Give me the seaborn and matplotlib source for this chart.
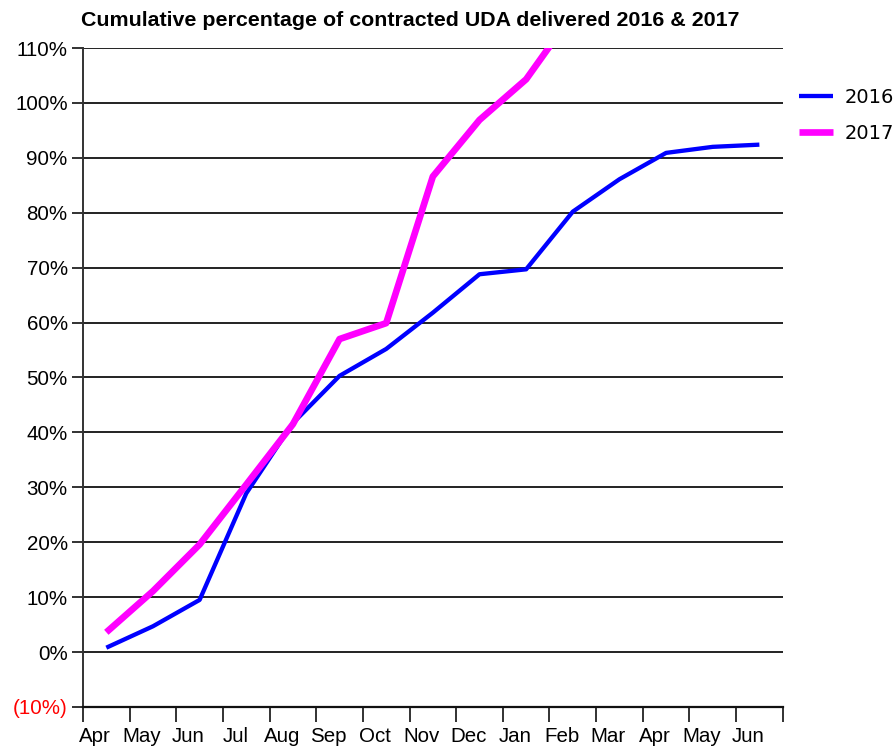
import matplotlib
matplotlib.use("Agg")
import matplotlib.pyplot as plt
import matplotlib.transforms as mtransforms
import seaborn as sns
import pandas as pd
import numpy as np

months = ["Apr", "May", "Jun", "Jul", "Aug", "Sep", "Oct", "Nov", "Dec",
          "Jan", "Feb", "Mar", "Apr", "May", "Jun"]
vals_2016 = [0.8, 4.7, 9.5, 28.9, 41.7, 50.3, 55.2, 61.8, 68.8, 69.7,
             80.2, 86.1, 90.9, 92.0, 92.4]
vals_2017 = [3.6, 11.1, 19.6, 30.5, 41.5, 57.0, 59.9, 86.6, 96.9, 104.3,
             116.2]
y_ticks = list(range(-10, 111, 10))
y_labels = ["(10%)"] + [f"{v}%" for v in range(0, 111, 10)]
title = "Cumulative percentage of contracted UDA delivered 2016 & 2017"

df16 = pd.DataFrame({"x": np.arange(len(vals_2016)), "y": vals_2016, "year": "2016"})
df17 = pd.DataFrame({"x": np.arange(len(vals_2017)), "y": vals_2017, "year": "2017"})

sns.set_theme(style="white")
plt.rcParams["font.family"] = ["Liberation Sans", "DejaVu Sans"]
plt.rcParams["text.color"] = "black"
plt.rcParams["xtick.color"] = "black"
plt.rcParams["ytick.color"] = "black"

fig = plt.figure(figsize=(8.96, 7.46), dpi=100)
ax = fig.add_axes([83/896, 1-707/746, (782.7-83)/896, (707-48)/746])

sns.lineplot(data=df16, x="x", y="y", color="#0000ff", linewidth=3.1, ax=ax,
             label="2016", solid_capstyle="butt", zorder=3)
sns.lineplot(data=df17, x="x", y="y", color="#ff00ff", linewidth=4.8, ax=ax,
             label="2017", solid_capstyle="butt", zorder=4)

ax.set_xlim(-0.5, len(months) - 0.5)
ax.set_ylim(-10, 110)

# gridlines
for v in range(0, 111, 10):
    ax.axhline(v, color="#222222", linewidth=1.4, zorder=1)

ax.set_yticks(y_ticks)
ax.set_yticklabels(y_labels)
ax.get_yticklabels()[0].set_color("#ff0000")
ax.tick_params(axis="y", which="major", length=8, width=1.3, color="#222222",
               pad=3, labelsize=14.8, left=True)

ax.set_xticks(np.arange(len(months)))
ax.set_xticklabels(months)
ax.set_xticks(np.arange(-0.5, len(months)), minor=True)
ax.tick_params(axis="x", which="major", length=0, pad=14.5, labelsize=14.8)
ax.tick_params(axis="x", which="minor", length=11, width=1.3, color="#222222",
               bottom=True, direction="out")
offset = mtransforms.ScaledTranslation(-11/100, 0, fig.dpi_scale_trans)
for lab in ax.get_xticklabels():
    lab.set_transform(lab.get_transform() + offset)

for s in ["top", "right"]:
    ax.spines[s].set_visible(False)
ax.spines["left"].set_color("#333333")
ax.spines["left"].set_linewidth(1.4)
ax.spines["bottom"].set_color("#111111")
ax.spines["bottom"].set_linewidth(1.6)

ax.set_xlabel("")
ax.set_ylabel("")

fig.text(410/896, 1-20/746, title, ha="center", va="center",
         fontsize=15.4, fontweight="bold", family="Liberation Sans")

leg = ax.legend(loc="upper left", bbox_to_anchor=(799/896, 1-88/746),
                bbox_transform=fig.transFigure, frameon=False,
                prop={"family": "DejaVu Sans", "size": 14},
                handlelength=1.75, handletextpad=0.6, labelspacing=0.85,
                borderaxespad=0, borderpad=0)

fig.savefig("out.png", dpi=100)
